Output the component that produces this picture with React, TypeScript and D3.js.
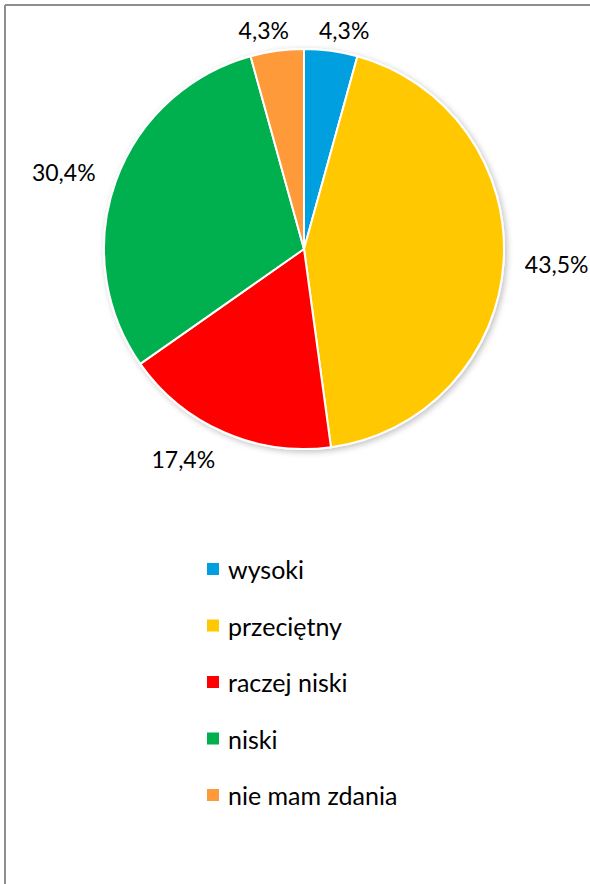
import React, { useEffect } from "react";
import * as d3 from "d3";

const categories = ["wysoki", "przeciętny", "raczej niski", "niski", "nie mam zdania"];
const values = [4.3, 43.5, 17.4, 30.4, 4.3];
const labels = ["4,3%", "43,5%", "17,4%", "30,4%", "4,3%"];
const colors = ["#009FE0", "#FFC800", "#FF0000", "#00B050", "#FF9A3A"];

const W = 590;
const H = 884;
const FONT = "Lato, 'Open Sans', sans-serif";

export default function App() {
  useEffect(() => {
    document.body.style.margin = "0";
  }, []);

  const cx = 304;
  const cy = 249;
  const r = 200;
  const pie = d3.pie<number>().sort(null).value((d) => d)(values);
  const arc = d3.arc<d3.PieArcDatum<number>>().innerRadius(0).outerRadius(r);

  const fontSize = 23;
  const labelD = 21;
  const charW = (s: string) => s.length * fontSize * 0.56;

  const legendY = d3.scaleLinear().domain([0, categories.length - 1]).range([569, 795]);

  return (
    <svg width={W} height={H} style={{ display: "block" }}>
      <defs>
        <filter id="sh" x="-10%" y="-10%" width="130%" height="130%">
          <feGaussianBlur in="SourceAlpha" stdDeviation="3" />
          <feOffset dx="2" dy="2" result="b" />
          <feComponentTransfer>
            <feFuncA type="linear" slope="0.25" />
          </feComponentTransfer>
          <feMerge>
            <feMergeNode />
            <feMergeNode in="SourceGraphic" />
          </feMerge>
        </filter>
      </defs>
      <rect x={0} y={0} width={W} height={H} fill="#fff" />
      <line x1={5} y1={5} x2={W} y2={5} stroke="#8E8E8E" strokeWidth={2} />
      <line x1={5} y1={5} x2={5} y2={H} stroke="#8E8E8E" strokeWidth={2} />
      <g transform={`translate(${cx},${cy})`} filter="url(#sh)">
        {pie.map((p, i) => (
          <path key={i} d={arc(p) || ""} fill={colors[i]} stroke="#fff" strokeWidth={2} strokeLinejoin="round" />
        ))}
      </g>
      {pie.map((p, i) => {
        const a = (p.startAngle + p.endAngle) / 2;
        const ux = Math.sin(a);
        const uy = -Math.cos(a);
        const w = charW(labels[i]);
        const h = 16;
        const sx = Math.sign(ux) * Math.min(1, Math.abs(ux) * 3);
        const x = cx + (r + labelD) * ux + (w / 2) * sx;
        let y = cy + (r + labelD) * uy + (h / 2) * uy;
        y = Math.max(y, 30);
        return (
          <text
            key={i}
            x={x}
            y={y}
            textAnchor="middle"
            dominantBaseline="central"
            fontFamily={FONT}
            fontSize={fontSize}
            fill="#000"
          >
            {labels[i]}
          </text>
        );
      })}
      {categories.map((c, i) => (
        <g key={c} transform={`translate(0,${legendY(i)})`}>
          <rect x={207} y={-6} width={12} height={12} fill={colors[i]} />
          <text x={228} y={0} dominantBaseline="central" fontFamily={FONT} fontSize={25} fill="#000">
            {c}
          </text>
        </g>
      ))}
    </svg>
  );
}
